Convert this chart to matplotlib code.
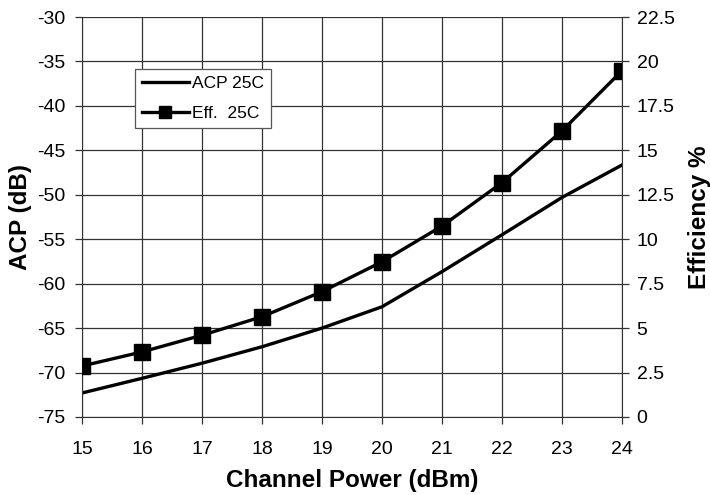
import numpy as np
import matplotlib
matplotlib.use("Agg")
import matplotlib.pyplot as plt
from matplotlib.ticker import FuncFormatter

plt.rcParams['font.family'] = ['Liberation Sans', 'DejaVu Sans']
plt.rcParams['axes.unicode_minus'] = False

# channel power (dBm)
power = [15, 16, 17, 18, 19, 20, 21, 22, 23, 24]
# ACP at 25C (dB), left axis
acp_25c = [-72.3, -70.65, -68.95, -67.1, -65.0, -62.6, -58.65, -54.5, -50.3, -46.65]
# efficiency at 25C (%), right axis
eff_25c = [2.87, 3.66, 4.6, 5.64, 7.05, 8.73, 10.74, 13.18, 16.09, 19.48]

fig = plt.figure(figsize=(7.1, 4.95), dpi=100)
ax = fig.add_axes([0.1155, 0.1576, 0.7605, 0.808])
ax2 = ax.twinx()

l1, = ax.plot(power, acp_25c, color='black', lw=2.4, label='ACP 25C')
l2, = ax2.plot(power, eff_25c, color='black', lw=2.4, marker='s', ms=11,
               label='Eff.  25C')

ax.set_xlim(15, 24)
ax.set_ylim(-75, -30)
ax.set_xticks(range(15, 25))
ax.set_yticks(np.arange(-75, -29, 5))
ax2.set_ylim(0, 22.5)
ax2.set_yticks(np.arange(0, 22.6, 2.5))
ax2.yaxis.set_major_formatter(FuncFormatter(lambda v, p: '%g' % v))

ax.grid(True, color='#333333', lw=0.9)
for a in (ax, ax2):
    for s in a.spines.values():
        s.set_visible(False)
    a.tick_params(labelsize=14, length=5, width=0.9, color='#333333')
ax.tick_params(axis='y', pad=7)
ax.tick_params(axis='x', pad=12)
ax2.tick_params(axis='y', pad=5.5)
ax.spines['left'].set_visible(True)
ax.spines['left'].set_color('#333333')
ax2.spines['right'].set_visible(True)
ax2.spines['right'].set_color('#333333')
ax.spines['bottom'].set_visible(True)
ax.spines['bottom'].set_color('#333333')

ax.set_xlabel('Channel Power (dBm)', fontsize=17.5, fontweight='bold')
ax.set_ylabel('ACP (dB)', fontsize=17.5, fontweight='bold')
ax2.set_ylabel('Efficiency %', fontsize=17.5, fontweight='bold')
ax.xaxis.set_label_coords(0.5, -0.158)
ax.xaxis.label.set_va('center')
ax.yaxis.set_label_coords(-0.113, 0.5)
ax.yaxis.label.set_va('center')
ax2.yaxis.set_label_coords(1.143, 0.5)
ax2.yaxis.label.set_va('center')

leg = ax.legend(handles=[l1, l2], loc='upper left', bbox_to_anchor=(0.098, 0.87),
                fontsize=12.5, frameon=True, fancybox=False, framealpha=1,
                edgecolor='#555555', handlelength=2.7, borderpad=0.4,
                labelspacing=0.85, handletextpad=0.2, borderaxespad=0,
                markerscale=0.75)
leg.get_frame().set_linewidth(0.9)

fig.savefig('out.png', dpi=100)
